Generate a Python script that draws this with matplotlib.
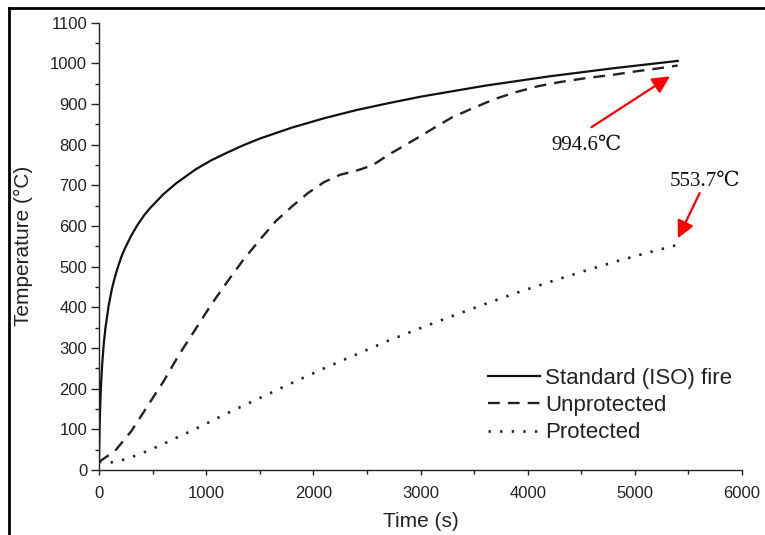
import matplotlib
matplotlib.use('Agg')
import matplotlib.pyplot as plt
from matplotlib.lines import Line2D
from matplotlib.ticker import MultipleLocator

# Standard (ISO) fire curve
iso_t = [0, 2, 5, 7, 10, 15, 20, 30, 45, 60, 90, 120, 150, 180, 210, 240, 300,
         360, 420, 480, 600, 720, 900, 1050, 1200, 1350, 1500, 1800, 2100, 2400,
         2700, 3000, 3600, 4200, 4800, 5400]
iso_T = [20, 55, 97, 119, 147, 185, 215, 261, 312, 349, 404, 445, 476, 502, 525, 544, 576,
         603, 626, 645, 678, 705, 739, 762, 781, 799, 815, 842, 865, 885,
         902, 918, 945, 968, 988, 1006]

# unprotected steel
unp_t = [0, 150, 300, 450, 600, 750, 900, 1050, 1200, 1350, 1500, 1650, 1800,
         1950, 2100, 2250, 2400, 2550, 2700, 2850, 3000, 3150, 3300, 3500, 3700,
         3900, 4100, 4300, 4550, 4800, 5000, 5200, 5400]
unp_T = [20, 47, 95, 156, 217, 285, 346, 408, 464, 518, 566, 612, 648,
         681, 708, 726, 736, 749, 775, 798, 821, 845, 868, 891, 913,
         930, 944, 954, 964, 972, 980, 987, 994.6]

# protected steel
pro_t = [0, 120, 240, 360, 480, 600, 900, 1200, 1500, 1800, 2100, 2400, 2700,
         3000, 3300, 3600, 3900, 4200, 4500, 4800, 5100, 5400]
pro_T = [20, 19, 26, 37, 50, 64, 101, 140, 177, 214, 250, 284, 318,
         349, 379, 408, 436, 462, 487, 511, 533, 553.7]

labels = ['Standard (ISO) fire', 'Unprotected', 'Protected']

plt.rcParams['font.family'] = ['Liberation Sans', 'DejaVu Sans']
serif = ['Liberation Serif', 'DejaVu Serif', 'DejaVu Sans']
txt = '#222222'

fig = plt.figure(figsize=(7.65, 5.35), dpi=100)
ax = fig.add_axes([99 / 765, 1 - 470 / 535, 643 / 765, 447.3 / 535])

ax.plot(iso_t, iso_T, color='#111111', lw=1.6, label=labels[0])
ax.plot(unp_t, unp_T, color='#222222', lw=1.7, dashes=(5, 3.4), label=labels[1])
ax.plot(pro_t, pro_T, color='#222222', lw=1.9, dashes=(0.9, 3.5), label=labels[2])

ax.set_xlim(0, 6000)
ax.set_ylim(0, 1100)
ax.xaxis.set_major_locator(MultipleLocator(1000))
ax.xaxis.set_minor_locator(MultipleLocator(500))
ax.yaxis.set_major_locator(MultipleLocator(100))
ax.yaxis.set_minor_locator(MultipleLocator(50))

for s in ['top', 'right']:
    ax.spines[s].set_visible(False)
for s in ['left', 'bottom']:
    ax.spines[s].set_linewidth(1.0)
    ax.spines[s].set_color('#222222')

ax.tick_params(axis='x', which='major', length=3.5, width=1, pad=8, labelsize=12, colors=txt)
ax.tick_params(axis='x', which='minor', length=3, width=1, colors=txt)
ax.tick_params(axis='y', which='major', length=6, width=1, pad=2.5, labelsize=12, colors=txt)
ax.tick_params(axis='y', which='minor', length=3, width=1, colors=txt)

ax.set_xlabel('Time (s)', fontsize=15, color=txt)
ax.set_ylabel('Temperature (°C)', fontsize=15, color=txt)
ax.xaxis.set_label_coords(0.5, -0.093)
ax.yaxis.set_label_coords(-0.103, 0.5)

ax.legend(loc='upper left', bbox_to_anchor=(488 / 765, 1 - 368 / 535),
          bbox_transform=fig.transFigure, frameon=False, fontsize=16,
          borderpad=0, borderaxespad=0, handlelength=2.35, handletextpad=0.22,
          labelspacing=0.28, labelcolor=txt)

# red callouts
arrow = dict(arrowstyle='-|>', color='red', lw=1.6, mutation_scale=26,
             shrinkA=0, shrinkB=0)
ax.annotate('', xy=(5327, 968), xytext=(4595, 843), arrowprops=arrow)
ax.text(4548, 798, '994.6℃', fontsize=15, family=serif, ha='center', va='center', color='#111111')
ax.annotate('', xy=(5402, 570), xytext=(5605, 681), arrowprops=arrow, annotation_clip=False)
ax.text(5655, 709, '553.7℃', fontsize=15, family=serif, ha='center', va='center', color='#111111',
        clip_on=False)

# frame of the cropped figure
fig.add_artist(Line2D([9 / 765, 9 / 765], [0, 1 - 8 / 535], transform=fig.transFigure,
                      color='black', lw=2))
fig.add_artist(Line2D([9 / 765, 1], [1 - 8 / 535, 1 - 8 / 535], transform=fig.transFigure,
                      color='black', lw=2))

fig.savefig('out.png', dpi=100, facecolor='white')
